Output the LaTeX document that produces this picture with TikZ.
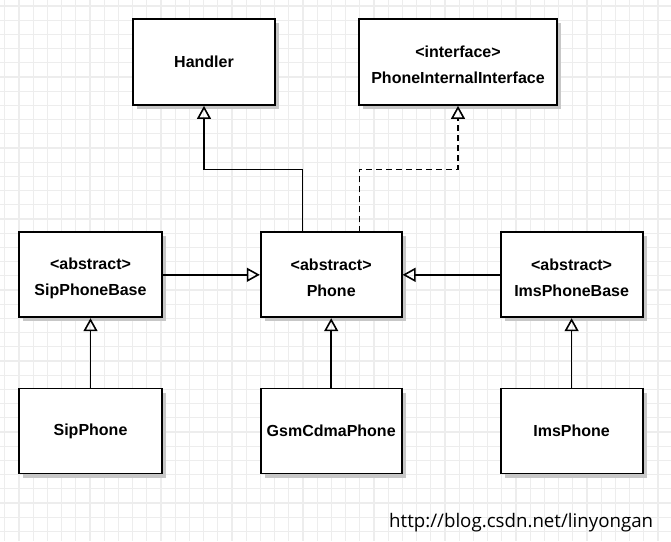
\documentclass[tikz,border=0pt]{standalone}
\usepackage{fontspec}
\setmainfont{Liberation Sans}
\newfontfamily\wmfont{Open Sans}
\usetikzlibrary{arrows.meta,shadows}
\newcommand{\topstrut}{\rule{0pt}{18pt}}
\begin{document}
\begin{tikzpicture}[x=1pt,y=-1pt,
  gridline/.style={draw=black!7,line width=1.2pt},
  classbox/.style={draw=black,line width=1.8pt,fill=white,rectangle,
    minimum height=85pt,inner sep=0pt,align=center,
    font=\fontsize{16}{26}\selectfont\bfseries,
    drop shadow={shadow xshift=4pt,shadow yshift=-4pt,fill=black!22,opacity=1}},
  inherit/.style={draw=black,line width=1.6pt,
    -{Triangle[open,length=13pt,width=14pt,line width=1.6pt]}},
  realize/.style={inherit,dash pattern=on 6pt off 4pt}
]
\useasboundingbox (0,0) rectangle (671,541);
\fill[white] (0,0) rectangle (671,541);
\foreach \i in {0,...,46} \draw[gridline] ({4.8+14.2*\i},0) -- ({4.8+14.2*\i},541);
\foreach \i in {0,...,37} \draw[gridline] (0,{6+14.2*\i}) -- (671,{6+14.2*\i});

\node[classbox,minimum width=142pt,minimum height=86pt] (handler) at (204,62) {\raisebox{-1pt}{Handler}};
\node[classbox,minimum width=198pt,minimum height=86pt] (iface) at (458,62) {\topstrut<interface>\\PhoneInternalInterface};
\node[classbox,minimum width=142.5pt] (sipbase) at (90.5,274.8) {\topstrut<abstract>\\SipPhoneBase};
\node[classbox,minimum width=141pt] (phone) at (331.2,274.8) {\topstrut<abstract>\\Phone};
\node[classbox,minimum width=142pt] (imsbase) at (571.6,274.8) {\topstrut<abstract>\\ImsPhoneBase};
\node[classbox,minimum width=142.5pt] (sip) at (90.5,431) {SipPhone};
\node[classbox,minimum width=141pt] (gsm) at (331.2,431) {GsmCdmaPhone};
\node[classbox,minimum width=142pt] (ims) at (571.6,431) {ImsPhone};

\coordinate (p1) at (302.3,232.3);
\coordinate (p2) at (359.3,232.3);
\draw[inherit] (p1) -- (302.3,169.3) -| (handler.south);
\draw[realize] (p2) -- (359.3,169.3) -| (iface.south);
\draw[inherit] (sipbase.east) -- (phone.west);
\draw[inherit] (imsbase.west) -- (phone.east);
\draw[inherit] (sip.north) -- (sipbase.south);
\draw[inherit] (gsm.north) -- (phone.south);
\draw[inherit] (ims.north) -- (imsbase.south);

\node[anchor=base west,inner sep=0pt,font=\wmfont\fontsize{18.7}{18.7}\selectfont] (wm) at (389,527) {http://blog.csdn.net/linyongan};
\end{tikzpicture}
\end{document}
